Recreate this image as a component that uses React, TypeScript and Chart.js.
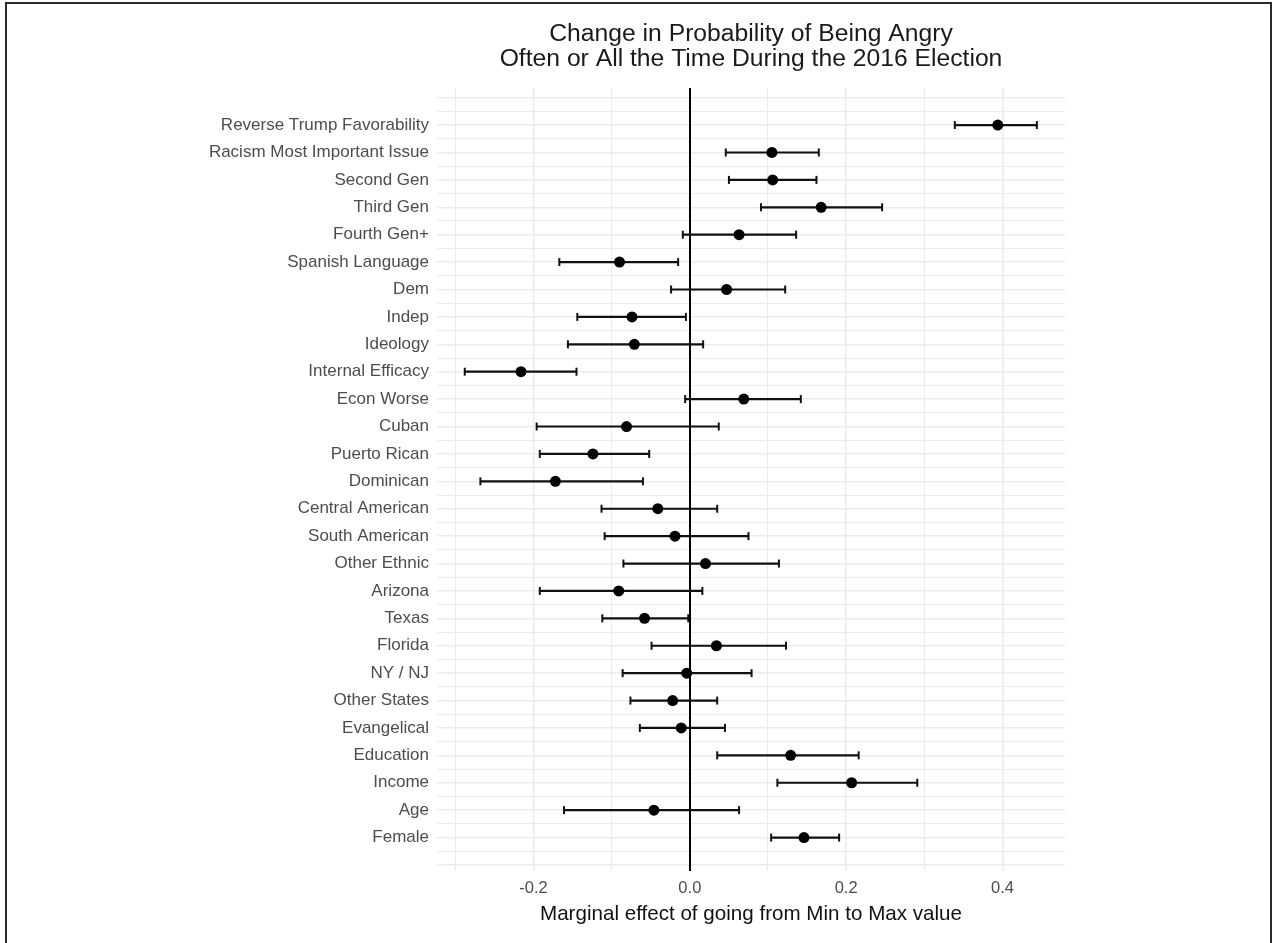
import React, { useEffect, useRef } from "react";
import { Chart, registerables } from "chart.js";

Chart.register(...registerables);

const categories = [
  "Reverse Trump Favorability",
  "Racism Most Important Issue",
  "Second Gen",
  "Third Gen",
  "Fourth Gen+",
  "Spanish Language",
  "Dem",
  "Indep",
  "Ideology",
  "Internal Efficacy",
  "Econ Worse",
  "Cuban",
  "Puerto Rican",
  "Dominican",
  "Central American",
  "South American",
  "Other Ethnic",
  "Arizona",
  "Texas",
  "Florida",
  "NY / NJ",
  "Other States",
  "Evangelical",
  "Education",
  "Income",
  "Age",
  "Female",
];

const estimates = [
  0.394, 0.105, 0.106, 0.168, 0.063, -0.09, 0.047, -0.074, -0.071, -0.216,
  0.069, -0.081, -0.124, -0.172, -0.041, -0.019, 0.02, -0.091, -0.058, 0.034,
  -0.004, -0.022, -0.011, 0.129, 0.207, -0.046, 0.146,
];

const lowerBounds = [
  0.339, 0.046, 0.05, 0.091, -0.009, -0.167, -0.024, -0.144, -0.156, -0.288,
  -0.006, -0.196, -0.192, -0.268, -0.113, -0.109, -0.085, -0.192, -0.112,
  -0.049, -0.086, -0.076, -0.064, 0.035, 0.112, -0.161, 0.104,
];

const upperBounds = [
  0.444, 0.165, 0.162, 0.246, 0.136, -0.015, 0.122, -0.005, 0.017, -0.145,
  0.142, 0.037, -0.052, -0.06, 0.035, 0.075, 0.114, 0.016, -0.002, 0.123,
  0.079, 0.035, 0.045, 0.216, 0.291, 0.063, 0.191,
];

const xTickValues = [-0.3, -0.2, -0.1, 0, 0.1, 0.2, 0.3, 0.4];
const xTickLabels = ["", "-0.2", "", "0.0", "", "0.2", "", "0.4"];

const titleLines = [
  "Change in Probability of Being Angry",
  "Often or All the Time During the 2016 Election",
];
const xAxisTitle = "Marginal effect of going from Min to Max value";

const FONT = "'Liberation Sans', Arial, Helvetica, sans-serif";

export default function App() {
  const canvasRef = useRef<HTMLCanvasElement | null>(null);

  useEffect(() => {
    if (!canvasRef.current) return;
    Chart.defaults.font.family = FONT;

    const errorLineData: { x: number; y: number }[] = [];
    categories.forEach((_, i) => {
      errorLineData.push({ x: lowerBounds[i], y: i });
      errorLineData.push({ x: upperBounds[i], y: i });
      errorLineData.push({ x: NaN, y: NaN });
    });
    const capData: { x: number; y: number }[] = [];
    categories.forEach((_, i) => {
      capData.push({ x: lowerBounds[i], y: i });
      capData.push({ x: upperBounds[i], y: i });
    });
    const pointData = categories.map((_, i) => ({ x: estimates[i], y: i }));

    const yGridValues: number[] = [];
    for (let v = -1; v <= categories.length; v += 0.5) yGridValues.push(v);

    const chart = new Chart(canvasRef.current, {
      type: "scatter",
      data: {
        datasets: [
          {
            label: "ci",
            data: errorLineData,
            showLine: true,
            spanGaps: false,
            borderColor: "#111111",
            borderWidth: 2.2,
            pointRadius: 0,
            pointHoverRadius: 0,
            order: 3,
          },
          {
            label: "caps",
            data: capData,
            pointStyle: "line",
            rotation: 90,
            pointRadius: 4,
            pointBorderWidth: 2,
            borderColor: "#111111",
            backgroundColor: "#111111",
            showLine: false,
            order: 2,
          },
          {
            label: "estimate",
            data: pointData,
            pointRadius: 5.5,
            pointBorderWidth: 0,
            backgroundColor: "#000000",
            borderColor: "#000000",
            showLine: false,
            order: 1,
          },
        ],
      },
      options: {
        animation: false,
        responsive: true,
        maintainAspectRatio: false,
        layout: { padding: { left: 0, right: 208, top: 0, bottom: 0 } },
        plugins: {
          legend: { display: false },
          tooltip: { enabled: false },
          title: {
            display: true,
            fullSize: false,
            text: titleLines,
            color: "#1a1a1a",
            font: { size: 24.7, weight: "normal", family: FONT, lineHeight: 1.03 },
            padding: { top: 21.3, bottom: 15.9 },
          },
        },
        scales: {
          x: {
            type: "linear",
            min: -0.3235,
            max: 0.48,
            afterBuildTicks: (scale: any) => {
              scale.ticks = xTickValues.map((v) => ({ value: v }));
            },
            afterFit: (scale: any) => {
              scale.height = 72;
            },
            border: { display: false },
            grid: {
              z: -1,
              drawTicks: false,
              color: (ctx: any) =>
                Math.abs(ctx.tick.value) < 1e-9 ? "#000000" : "#ebebeb",
              lineWidth: (ctx: any) => {
                const v = ctx.tick.value;
                if (Math.abs(v) < 1e-9) return 2;
                return Math.round(v * 10) % 2 === 0 ? 1.5 : 1;
              },
            },
            ticks: {
              autoSkip: false,
              maxRotation: 0,
              padding: 8,
              color: "#4d4d4d",
              font: { size: 16.5 },
              callback: (_v: any, index: number) => xTickLabels[index] ?? "",
            },
            title: {
              display: true,
              text: xAxisTitle,
              color: "#111111",
              font: { size: 20.6 },
              padding: { top: 2, bottom: 16.6 },
            },
          },
          y: {
            type: "linear",
            reverse: true,
            min: -1.35,
            max: 27.22,
            afterBuildTicks: (scale: any) => {
              scale.ticks = yGridValues.map((v) => ({ value: v }));
            },
            afterFit: (scale: any) => {
              scale.width = 437;
            },
            border: { display: false },
            grid: {
              z: -2,
              drawTicks: false,
              color: "#ebebeb",
              lineWidth: (ctx: any) =>
                Number.isInteger(ctx.tick.value) ? 1.5 : 1,
            },
            ticks: {
              autoSkip: false,
              padding: 8,
              color: "#4d4d4d",
              font: { size: 17 },
              callback: (v: any) => {
                const n = Number(v);
                if (Number.isInteger(n) && n >= 0 && n < categories.length) {
                  return categories[n];
                }
                return "";
              },
            },
          },
        },
      },
    } as any);

    return () => chart.destroy();
  }, []);

  return (
    <div
      style={{
        position: "absolute",
        left: 0,
        top: 0,
        width: 1273,
        height: 943,
        background: "#ffffff",
        overflow: "hidden",
      }}
    >
      <canvas ref={canvasRef} />
      <div
        style={{
          position: "absolute",
          left: 5,
          top: 2,
          width: 1267,
          height: 941,
          boxSizing: "border-box",
          borderTop: "2px solid #2a2a2a",
          borderLeft: "2px solid #2a2a2a",
          borderRight: "2px solid #2a2a2a",
          pointerEvents: "none",
        }}
      />
    </div>
  );
}
